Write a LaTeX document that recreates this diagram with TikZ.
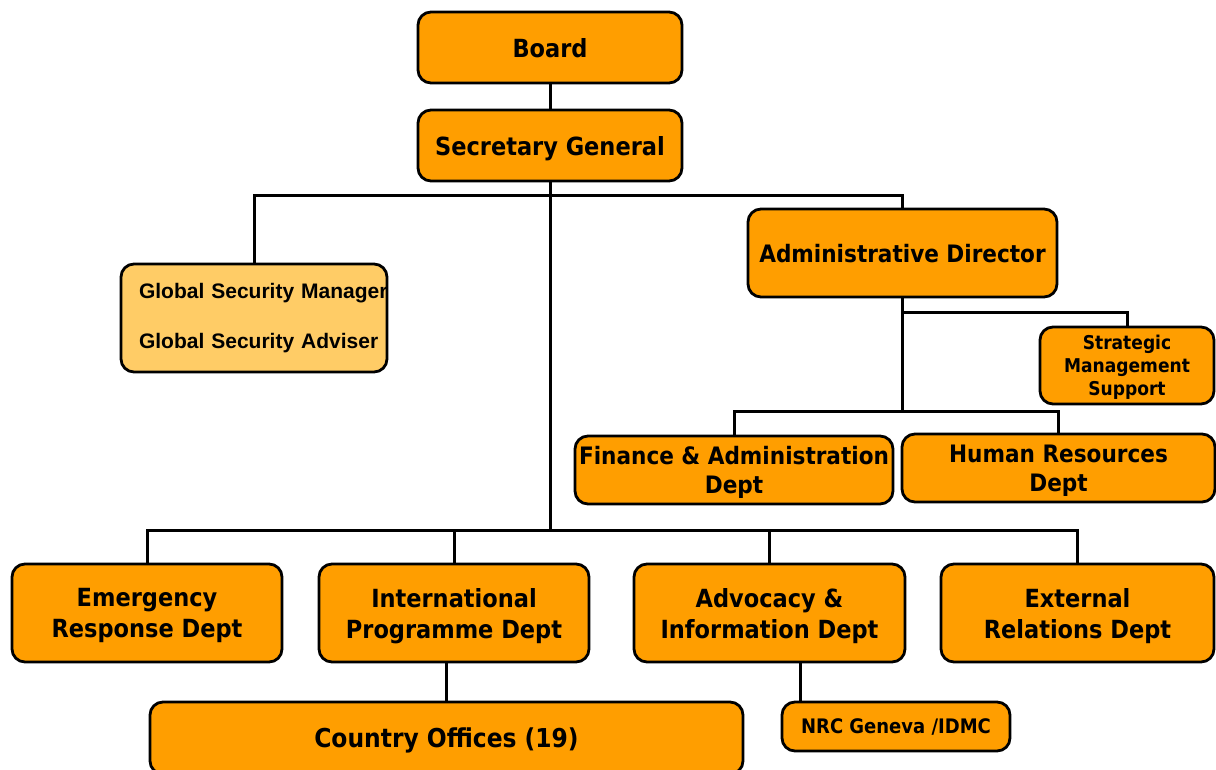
\documentclass[tikz,border=0pt]{standalone}
\usepackage{fontspec}
\usepackage{tikz}
\usetikzlibrary{positioning, calc, backgrounds}
\newfontfamily\deptfont{DejaVu Sans Condensed}
\newfontfamily\secfont{Liberation Sans}
\definecolor{nrcorange}     {RGB}{255, 158,    0}
\definecolor{nrclight}      {RGB}{255, 204,  102}
\tikzset{
	unit/.style={draw, line width=2.8pt, rounded corners=13pt, fill=nrcorange, align=center, inner sep=0pt, text depth=0pt,
		font=\deptfont\bfseries\fontsize{25}{31}\selectfont},
	link/.style={line width=3pt},
}

\begin{document}
\begin{tikzpicture}[x=1pt, y=-1pt]
	\useasboundingbox (0,0) rectangle (1216,769);
	\clip (0,0) rectangle (1216,769);
	% head office
	\node[unit, minimum width=264pt, minimum height=71pt] (board) at (550,47.5) {Board};
	\node[unit, minimum width=264pt, minimum height=71pt] (sg) at (550,145.5) {Secretary General};
	\node[unit, minimum width=266pt, minimum height=108pt, fill=nrclight, text width=230pt, inner xsep=18pt, align=left, text depth=,
		font=\secfont\bfseries\fontsize{21}{25}\selectfont] (gs) at (254,318)
		{\mbox{Global Security Manager}\\[25pt]\mbox{Global Security Adviser}};
	\node[unit, minimum width=309pt, minimum height=88pt, font=\deptfont\bfseries\fontsize{24}{30}\selectfont] (ad) at (902.5,253) {Administrative Director};
	\node[unit, minimum width=174pt, minimum height=77pt, font=\deptfont\bfseries\fontsize{19}{23}\selectfont] (sms) at (1127,365.5) {Strategic\\Management\\Support};
	\node[unit, minimum width=318pt, minimum height=68pt, font=\deptfont\bfseries\fontsize{24}{29}\selectfont] (fin) at (734,470) {Finance \& Administration\\Dept};
	\node[unit, minimum width=313pt, minimum height=68pt, font=\deptfont\bfseries\fontsize{24}{29}\selectfont] (hr) at (1058.5,468) {Human Resources\\Dept};
	% departments
	\node[unit, minimum width=270pt, minimum height=98pt] (emer) at (147,613) {Emergency\\Response Dept};
	\node[unit, minimum width=270pt, minimum height=98pt] (intl) at (454,613) {International\\Programme Dept};
	\node[unit, minimum width=271pt, minimum height=98pt] (adv) at (769.5,613) {Advocacy \&\\Information Dept};
	\node[unit, minimum width=273pt, minimum height=98pt] (ext) at (1077.5,613) {External\\Relations Dept};
	\node[unit, minimum width=593pt, minimum height=72pt, font=\deptfont\bfseries\fontsize{26}{31}\selectfont] (co) at (446.5,738) {Country Offices (19)};
	\node[unit, minimum width=228pt, minimum height=49pt, font=\deptfont\bfseries\fontsize{20}{24}\selectfont] (nrc) at (896,726.5) {NRC Geneva /IDMC};

	\coordinate (topbus) at (550,195);
	\coordinate (lowbus) at (550,530);
	\coordinate (smsbus) at (902.5,312);
	\coordinate (finbus) at (902.5,411);

	\begin{scope}[on background layer]
		\draw[link] (board) -- (sg);
		\draw[link] (sg.south) -- (lowbus);
		\draw[link] (gs.north) |- (topbus) -| (ad.north);
		\draw[link] (emer.north) |- (lowbus) -| (ext.north);
		\draw[link] (intl.north) -- (intl.north |- lowbus);
		\draw[link] (adv.north) -- (adv.north |- lowbus);
		\draw[link] (ad.south) -- (finbus);
		\draw[link] (smsbus) -| (sms.north);
		\draw[link] (fin.north) |- (finbus) -| (hr.north);
		\draw[link] (co.north) -- (co.north |- intl.south);
		\draw[link] ([xshift=31pt]adv.south) -- ([xshift=31pt]adv.south |- nrc.north);
	\end{scope}
\end{tikzpicture}
\end{document}
